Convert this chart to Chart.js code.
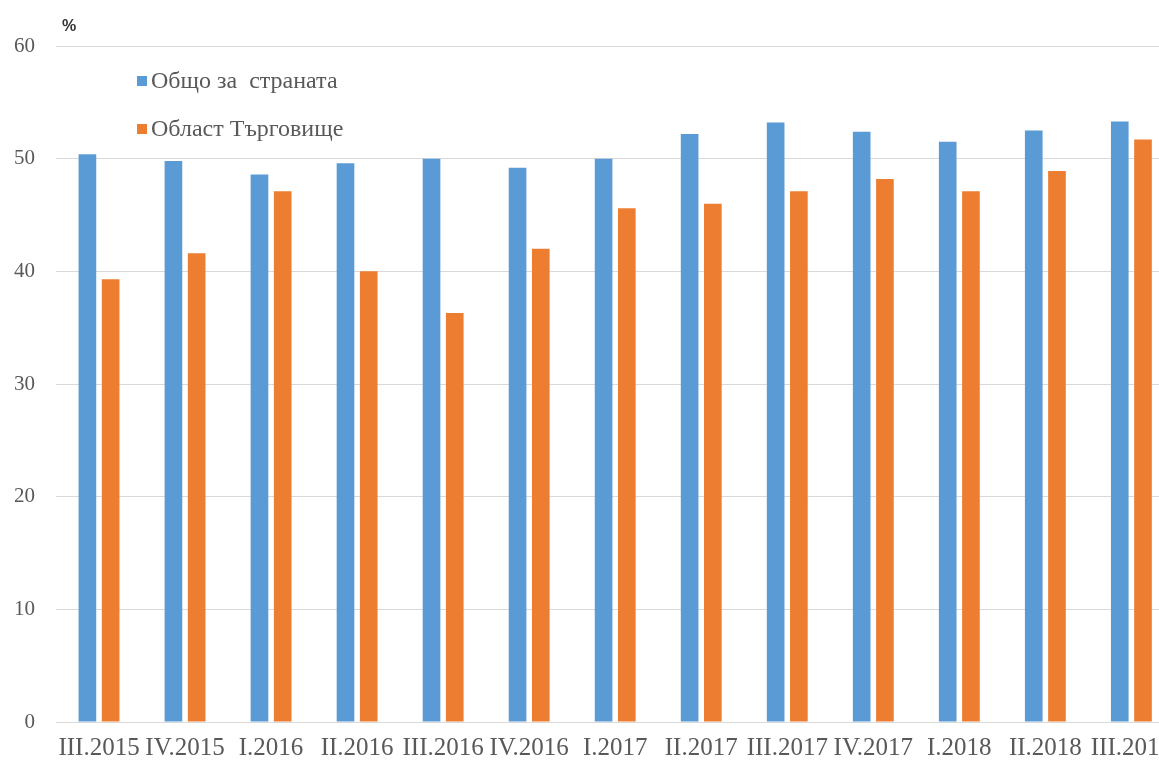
<!DOCTYPE html>
<html lang="bg">
<head>
  <meta charset="UTF-8">
  <title>Коефициент на заетост</title>
  <script src="https://cdn.jsdelivr.net/npm/chart.js"></script>
  <style>
    html, body { margin: 0; padding: 0; background: #fff; overflow: hidden; }
    #wrap { position: relative; width: 1175px; height: 763px; }
  </style>
</head>
<body>
  <div id="wrap">
    <canvas id="employmentChart"></canvas>
  </div>

  <script>
    // quarters shown on the x axis
    var quarters = ['III.2015', 'IV.2015', 'I.2016', 'II.2016', 'III.2016', 'IV.2016', 'I.2017',
                    'II.2017', 'III.2017', 'IV.2017', 'I.2018', 'II.2018', 'III.2018'];

    // employment rate, %
    var countryValues = [50.4, 49.8, 48.6, 49.6, 50.0, 49.2, 50.0, 52.2, 53.2, 52.4, 51.5, 52.5, 53.3];
    var targovishteValues = [39.3, 41.6, 47.1, 40.0, 36.3, 42.0, 45.6, 46.0, 47.1, 48.2, 47.1, 48.9, 51.7];

    var seriesNames = ['Общо за  страната', 'Област Търговище'];
    var yTicks = [0, 10, 20, 30, 40, 50, 60];

    var blue = '#5B9BD5';
    var orange = '#ED7D31';
    var textGray = '#595959';
    var serif = '"Liberation Serif", "Times New Roman", serif';

    // legend in the top-left of the plot, plus the "%" unit label
    var insideLegend = {
      id: 'insideLegend',
      afterDraw: function (chart) {
        var c = chart.ctx;
        c.save();
        c.font = 'bold 16px "Liberation Sans", Arial, sans-serif';
        c.fillStyle = '#333';
        c.textBaseline = 'middle';
        c.fillText('%', 62, 27);

        c.font = '24px ' + serif;
        chart.data.datasets.forEach(function (ds, i) {
          var y = 81 + i * 48;
          c.fillStyle = ds.backgroundColor;
          c.fillRect(137, y - 5, 10, 10);
          c.fillStyle = textGray;
          c.fillText(ds.label, 151, y + 1);
        });
        c.restore();
      }
    };

    var ctx = document.getElementById('employmentChart').getContext('2d');
    var employmentChart = new Chart(ctx, {
      type: 'bar',
      data: {
        labels: quarters,
        datasets: [
          { label: seriesNames[0], data: countryValues, backgroundColor: blue },
          { label: seriesNames[1], data: targovishteValues, backgroundColor: orange }
        ]
      },
      options: {
        responsive: true,
        maintainAspectRatio: false,
        animation: false,
        datasets: { bar: { categoryPercentage: 0.54, barPercentage: 0.76 } },
        layout: { padding: { top: 46, right: 0, bottom: 0, left: 0 } },
        plugins: {
          legend: { display: false },
          tooltip: { enabled: false }
        },
        scales: {
          x: {
            grid: { display: false },
            border: { color: '#d9d9d9' },
            ticks: {
              color: textGray,
              font: { family: serif, size: 25 },
              maxRotation: 0,
              autoSkip: false,
              padding: 3
            },
            afterFit: function (scale) { scale.height = 41; }
          },
          y: {
            min: 0,
            max: 60,
            afterBuildTicks: function (scale) {
              scale.ticks = yTicks.map(function (v) { return { value: v }; });
            },
            grid: { color: '#d9d9d9', drawTicks: false },
            border: { display: false },
            ticks: {
              color: textGray,
              font: { family: serif, size: 21 },
              padding: 21
            },
            afterFit: function (scale) { scale.width = 56; }
          }
        }
      },
      plugins: [insideLegend]
    });
  </script>
</body>
</html>
